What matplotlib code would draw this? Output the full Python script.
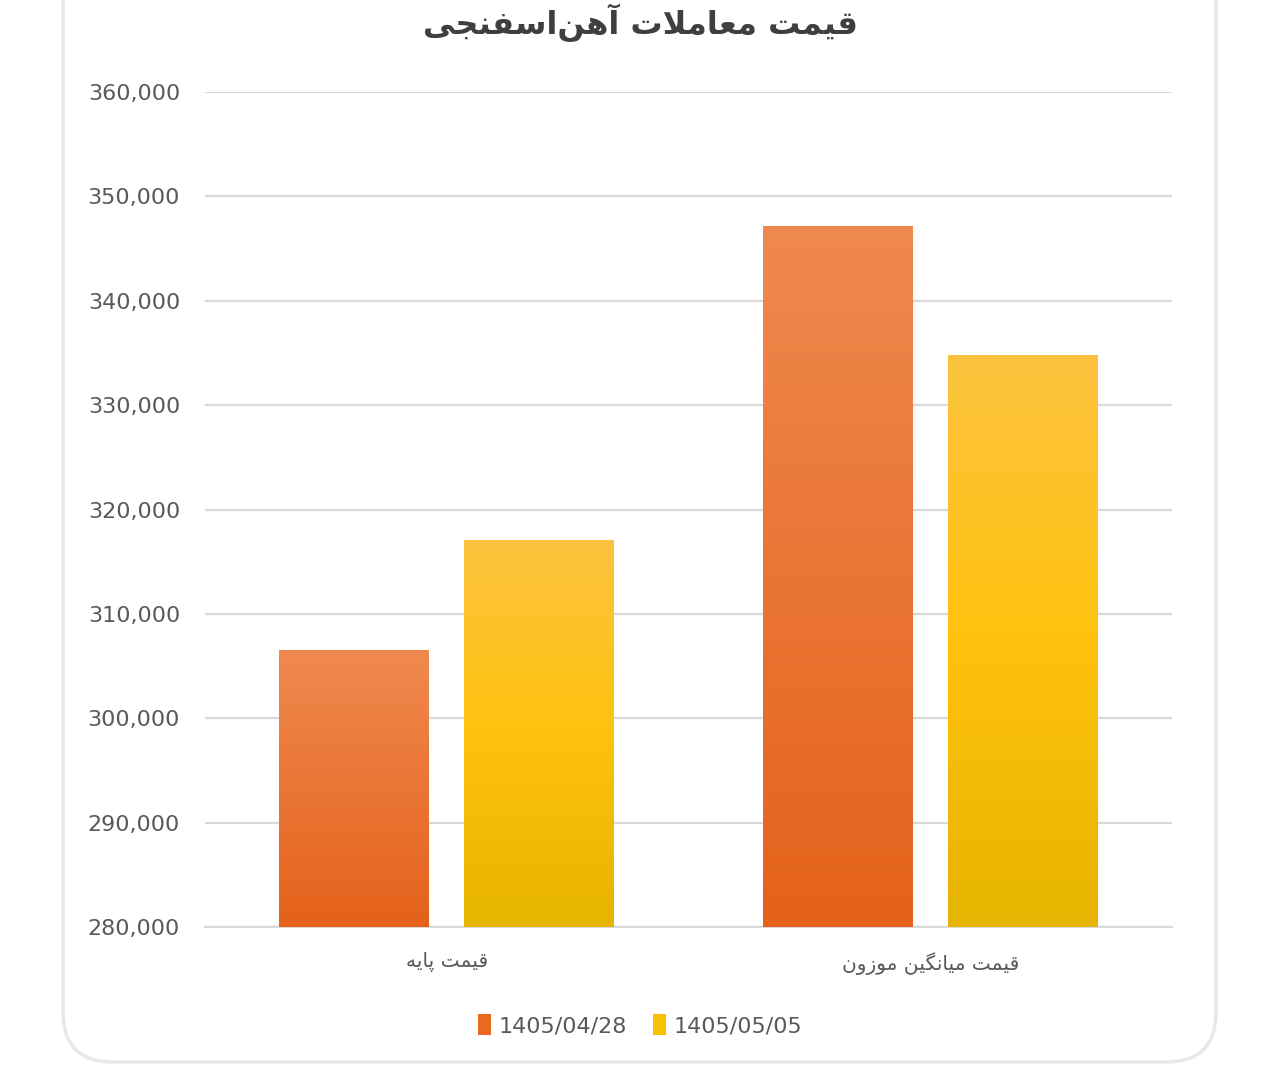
import numpy as np
import matplotlib
matplotlib.use('Agg')
import matplotlib.pyplot as plt
from matplotlib.colors import LinearSegmentedColormap
from matplotlib.patches import FancyBboxPatch, Patch
from matplotlib.ticker import FuncFormatter

# ---------------- data ----------------
title = 'قیمت معاملات آهن\u200cاسفنجی'
categories = ['قیمت پایه', 'قیمت میانگین موزون']
series_names = ['1405/04/28', '1405/05/05']
vals_0428 = [306500, 347200]
vals_0505 = [317100, 334800]
yticks = [280000, 290000, 300000, 310000, 320000, 330000, 340000, 350000, 360000]

# ---------------- small persian shaper (no arabic_reshaper here) ----------------
FORMS = {
    'ا': ('\uFE8D', '\uFE8E'), 'آ': ('\uFE81', '\uFE82'),
    'د': ('\uFEA9', '\uFEAA'), 'ز': ('\uFEAF', '\uFEB0'), 'و': ('\uFEED', '\uFEEE'),
    'ب': ('\uFE8F', '\uFE90', '\uFE91', '\uFE92'),
    'پ': ('\uFB56', '\uFB57', '\uFB58', '\uFB59'),
    'ت': ('\uFE95', '\uFE96', '\uFE97', '\uFE98'),
    'ج': ('\uFE9D', '\uFE9E', '\uFE9F', '\uFEA0'),
    'س': ('\uFEB1', '\uFEB2', '\uFEB3', '\uFEB4'),
    'ع': ('\uFEC9', '\uFECA', '\uFECB', '\uFECC'),
    'ف': ('\uFED1', '\uFED2', '\uFED3', '\uFED4'),
    'ق': ('\uFED5', '\uFED6', '\uFED7', '\uFED8'),
    'گ': ('\uFB92', '\uFB93', '\uFB94', '\uFB95'),
    'ل': ('\uFEDD', '\uFEDE', '\uFEDF', '\uFEE0'),
    'م': ('\uFEE1', '\uFEE2', '\uFEE3', '\uFEE4'),
    'ن': ('\uFEE5', '\uFEE6', '\uFEE7', '\uFEE8'),
    'ه': ('\uFEE9', '\uFEEA', '\uFEEB', '\uFEEC'),
    'ی': ('\uFBFC', '\uFBFD', '\uFBFE', '\uFBFF'),
}
LAMALEF = {'ا': ('\uFEFB', '\uFEFC'), 'آ': ('\uFEF5', '\uFEF6')}


def fa(s):
    out = []
    i = 0
    n = len(s)
    while i < n:
        ch = s[i]
        if ch not in FORMS:
            if ch != '\u200c':
                out.append(ch)
            i += 1
            continue
        prev = s[i-1] if i > 0 else ''
        before = prev in FORMS and len(FORMS[prev]) == 4
        if ch == 'ل' and i+1 < n and s[i+1] in LAMALEF:
            out.append(LAMALEF[s[i+1]][1 if before else 0])
            i += 2
            continue
        nxt = s[i+1] if i+1 < n else ''
        after = len(FORMS[ch]) == 4 and nxt in FORMS
        f = FORMS[ch]
        if before and after:
            out.append(f[3])
        elif before:
            out.append(f[1])
        elif after:
            out.append(f[2])
        else:
            out.append(f[0])
        i += 1
    return ''.join(out[::-1])


# ---------------- figure ----------------
fig = plt.figure(figsize=(12.8, 10.79), dpi=100)

# card background with soft border, in inches (top runs off the picture)
card = FancyBboxPatch((0.63, 10.79 - 10.62), 12.16 - 0.63, 12.0,
                      boxstyle='round,pad=0,rounding_size=0.5',
                      transform=fig.dpi_scale_trans, facecolor='white',
                      edgecolor='#e8e8e8', lw=2.5, zorder=-5)
fig.patches.append(card)

ax = fig.add_axes([205/1280, 1-927/1079, (1172-205)/1280, (927-92)/1079])
ax.set_facecolor('none')

x = np.arange(len(categories))
w = 0.31
off = 0.191
b1 = ax.bar(x - off, np.array(vals_0428) - 280000, w, bottom=280000, color='none', zorder=3)
b2 = ax.bar(x + off, np.array(vals_0505) - 280000, w, bottom=280000, color='none', zorder=3)

cm_orange = LinearSegmentedColormap.from_list('o', ['#e4621a', '#f0894f'])
cm_yellow = LinearSegmentedColormap.from_list('y', ['#e6b400', '#ffc20e', '#fcc33f'])
grad = np.linspace(0, 1, 256).reshape(-1, 1)
for bars, cmap in [(b1, cm_orange), (b2, cm_yellow)]:
    for p in bars:
        x0 = p.get_x()
        x1 = x0 + p.get_width()
        y0 = p.get_y()
        y1 = y0 + p.get_height()
        im = ax.imshow(grad, cmap=cmap, extent=[x0, x1, y0, y1], origin='lower',
                       aspect='auto', zorder=3)
        im.set_clip_path(p)

ax.set_xlim(-0.5, 1.5)
ax.set_ylim(280000, 360000)
ax.set_yticks(yticks)
ax.yaxis.set_major_formatter(FuncFormatter(lambda v, p: f'{int(v):,}'))
ax.grid(axis='y', color='#d9d9d9', lw=1.6, zorder=0)
ax.set_axisbelow(True)
for s in ['top', 'right', 'left']:
    ax.spines[s].set_visible(False)
ax.spines['bottom'].set_color('#d9d9d9')
ax.spines['bottom'].set_linewidth(1.6)
ax.tick_params(axis='y', length=0, pad=18, labelsize=16, labelcolor='#595959')
ax.tick_params(axis='x', length=0, pad=18, labelsize=14.5, labelcolor='#595959')
ax.set_xticks(x)
ax.set_xticklabels([fa(c) for c in categories])

fig.text(0.5, 0.979, fa(title), ha='center', va='center', fontsize=23,
         fontweight='bold', color='#3f3f3f')

handles = [Patch(facecolor='#e8691f'), Patch(facecolor='#f9c000')]
fig.legend(handles, series_names, loc='center', bbox_to_anchor=(0.5, 1-1025/1079),
           ncol=2, frameon=False, fontsize=16, handlelength=0.6, handleheight=1.1,
           handletextpad=0.3, columnspacing=1.2, labelcolor='#595959')

fig.savefig('out.png', dpi=100, facecolor='white')
